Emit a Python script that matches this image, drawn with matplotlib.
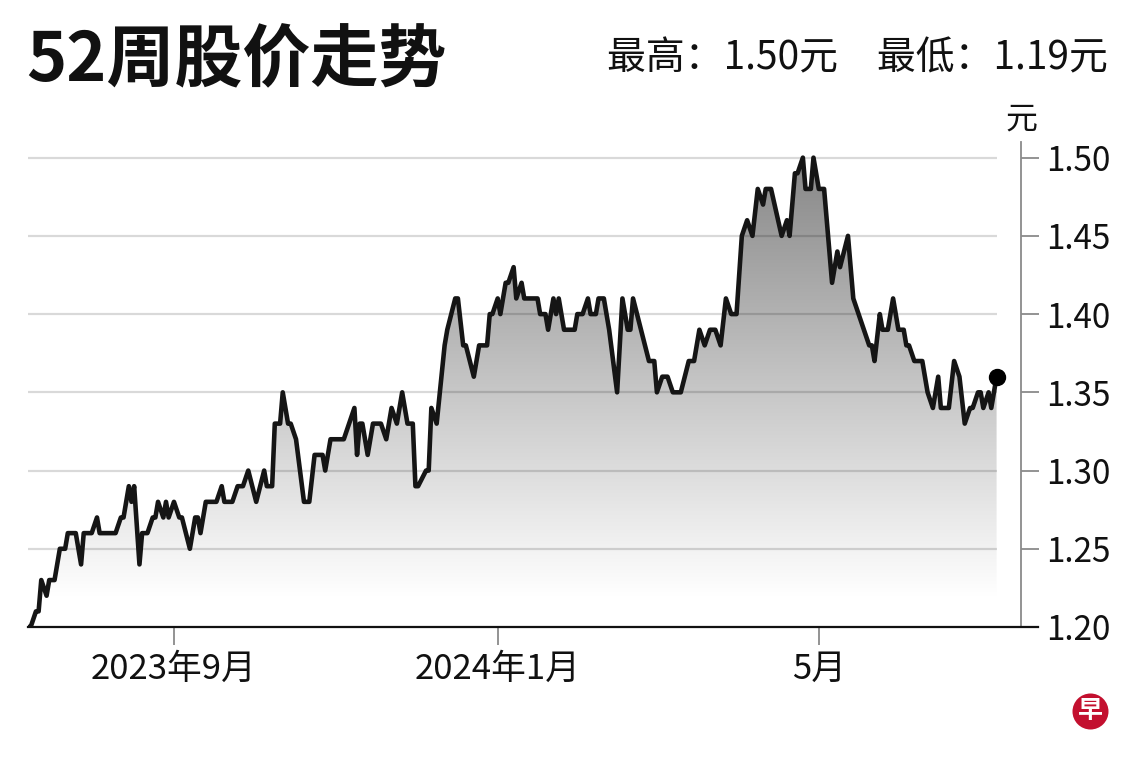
import numpy as np
import matplotlib
matplotlib.use("Agg")
import matplotlib.pyplot as plt
from matplotlib.patches import Circle

plt.rcParams['font.family'] = ['Noto Sans CJK SC', 'DejaVu Sans']

# -----------------------------------------------------------------------------
# Data: day offsets from the first trading day, closing price
start_date = np.datetime64('2023-07-08')
day_offsets = [0, 1, 3, 4, 5, 7, 8, 10, 12, 14, 15, 18, 20, 21, 24, 26, 27, 33, 35, 36,
               38, 39, 40, 42, 43, 45, 47, 48, 49, 51, 52, 53, 55, 57, 58, 61, 63, 64, 65, 67,
               71, 73, 74, 77, 79, 81, 83, 86, 89, 90, 92, 93, 95, 96, 98, 99, 101, 104, 106, 108,
               111, 112, 114, 119, 123, 124, 125, 126, 128, 130, 133, 135, 137, 139, 141, 143, 145, 146, 147, 150,
               151, 152, 154, 157, 158, 161, 162, 164, 165, 168, 170, 173, 174, 175, 177, 178, 180, 181, 183, 184,
               186, 187, 192, 193, 195, 196, 198, 199, 200, 202, 206, 207, 209, 211, 212, 214, 215, 217, 219, 222,
               224, 226, 227, 228, 234, 236, 237, 239, 241, 243, 246, 249, 251, 253, 255, 257, 259, 261, 263, 265,
               267, 269, 271, 273, 275, 277, 278, 280, 284, 286, 287, 289, 290, 292, 293, 295, 296, 298, 300, 303,
               305, 306, 309, 311, 313, 315, 317, 318, 319, 321, 322, 324, 326, 328, 330, 331, 332, 334, 337, 339,
               341, 343, 344, 347, 349, 351, 353, 355, 356, 358, 359, 360, 362, 363, 365]
prices = [1.20, 1.20, 1.21, 1.21, 1.23, 1.22, 1.23, 1.23, 1.25, 1.25, 1.26, 1.26, 1.24, 1.26, 1.26, 1.27, 1.26, 1.26, 1.27, 1.27,
          1.29, 1.28, 1.29, 1.24, 1.26, 1.26, 1.27, 1.27, 1.28, 1.27, 1.28, 1.27, 1.28, 1.27, 1.27, 1.25, 1.27, 1.27, 1.26, 1.28,
          1.28, 1.29, 1.28, 1.28, 1.29, 1.29, 1.30, 1.28, 1.30, 1.29, 1.29, 1.33, 1.33, 1.35, 1.33, 1.33, 1.32, 1.28, 1.28, 1.31,
          1.31, 1.30, 1.32, 1.32, 1.34, 1.31, 1.33, 1.33, 1.31, 1.33, 1.33, 1.32, 1.34, 1.33, 1.35, 1.33, 1.33, 1.29, 1.29, 1.30,
          1.30, 1.34, 1.33, 1.38, 1.39, 1.41, 1.41, 1.38, 1.38, 1.36, 1.38, 1.38, 1.40, 1.40, 1.41, 1.40, 1.42, 1.42, 1.43, 1.41,
          1.42, 1.41, 1.41, 1.40, 1.40, 1.39, 1.41, 1.40, 1.41, 1.39, 1.39, 1.40, 1.40, 1.41, 1.40, 1.40, 1.41, 1.41, 1.39, 1.35,
          1.41, 1.39, 1.39, 1.41, 1.37, 1.37, 1.35, 1.36, 1.36, 1.35, 1.35, 1.37, 1.37, 1.39, 1.38, 1.39, 1.39, 1.38, 1.41, 1.40,
          1.40, 1.45, 1.46, 1.45, 1.48, 1.47, 1.48, 1.48, 1.45, 1.46, 1.45, 1.49, 1.49, 1.50, 1.48, 1.48, 1.50, 1.48, 1.48, 1.42,
          1.44, 1.43, 1.45, 1.41, 1.40, 1.39, 1.38, 1.38, 1.37, 1.40, 1.39, 1.39, 1.41, 1.39, 1.39, 1.38, 1.38, 1.37, 1.37, 1.35,
          1.34, 1.36, 1.34, 1.34, 1.37, 1.36, 1.33, 1.34, 1.34, 1.35, 1.35, 1.34, 1.35, 1.34, 1.36]

tick_dates = ['2023-09-01', '2024-01-01', '2024-05-01']
tick_labels = ['2023年9月', '2024年1月', '5月']
y_ticks = [1.20, 1.25, 1.30, 1.35, 1.40, 1.45, 1.50]

title = '52周股价走势'
summary = '最高：1.50元　最低：1.19元'

# -----------------------------------------------------------------------------
x = np.array(day_offsets, dtype=float)
y = np.array(prices)
tick_pos = [(np.datetime64(d) - start_date).astype(int) for d in tick_dates]

fig = plt.figure(figsize=(11.4, 7.6), dpi=100)
fig.patch.set_facecolor('white')
ax = fig.add_axes([28 / 1140, 133 / 760, 993 / 1140, 485 / 760])

xmax = 374.2
ymin, ymax = 1.20, 1.51

# gradient fill under the line
poly = ax.fill_between(x, y, ymin, facecolor='none', edgecolor='none')
yy = np.linspace(ymin, ymax, 400)
shade = 1 - 0.47 * np.clip((yy - 1.22) / (1.50 - 1.22), 0, 1)
grad = np.repeat(shade[:, None, None], 3, axis=2)
img = ax.imshow(grad, extent=[x[0], x[-1], ymin, ymax], origin='lower', aspect='auto', zorder=1)
img.set_clip_path(poly.get_paths()[0], transform=ax.transData)

# grid lines
ax.hlines(y_ticks[1:], x[0], x[-1], colors=[(0, 0, 0, 0.15)], lw=1.6, zorder=2)

# price line + last point
ax.plot(x, y, color='#151515', lw=3.3, zorder=3, solid_joinstyle='round')
ax.plot(x[-1], y[-1], 'o', ms=11.5, color='black', zorder=4)

ax.set_xlim(0, xmax)
ax.set_ylim(ymin, ymax)

for s in ['top', 'left', 'bottom']:
	ax.spines[s].set_visible(False)
ax.spines['right'].set_color('#8a8a8a')
ax.spines['right'].set_linewidth(1.3)

ax.yaxis.tick_right()
ax.set_yticks(y_ticks)
ax.set_yticklabels(['{:.2f}'.format(v) for v in y_ticks])
ax.tick_params(axis='y', length=13, width=1.3, color='#8a8a8a', pad=5, labelsize=24, labelcolor='#111111')
ax.set_xticks(tick_pos)
ax.set_xticklabels(tick_labels)
ax.tick_params(axis='x', length=13, width=1.3, color='#8a8a8a', pad=5, labelsize=25, labelcolor='#111111')

# black base line running out under the 1.20 label
ax.plot([0, 1.017], [0, 0], transform=ax.transAxes, color='#111111', lw=1.6, clip_on=False, zorder=5)

# texts
fig.text(26 / 1140, 1 - 62 / 760, title, fontsize=49, fontweight='bold', ha='left', va='center', color='#111111')
fig.text(1108 / 1140, 1 - 58 / 760, summary, fontsize=28, ha='right', va='center', color='#111111')
fig.text(1021 / 1140, 1 - 120 / 760, '元', fontsize=23, ha='center', va='center', color='#111111')

# logo
fig.add_artist(Circle((10.905, 0.485), 0.18, transform=fig.dpi_scale_trans, facecolor='#c3102f', edgecolor='none'))
fig.text(1090.5 / 1140, 1 - 711 / 760, '早', fontsize=18, fontweight='bold', color='white', ha='center', va='center')

fig.savefig('out.png', dpi=100)
